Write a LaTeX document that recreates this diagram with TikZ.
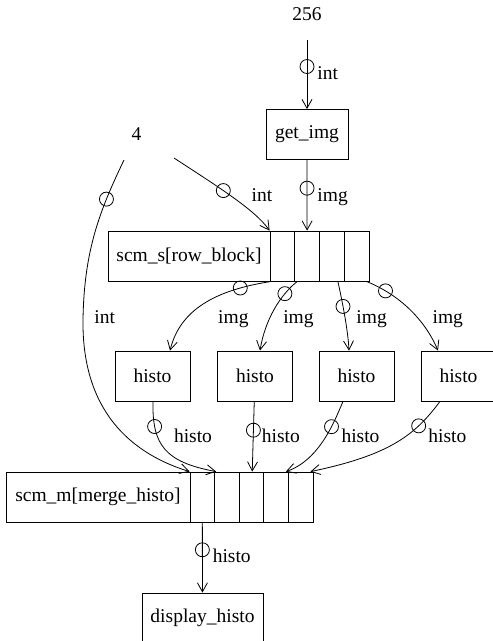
\documentclass[tikz,border=0pt]{standalone}
\usepackage{fontspec}
\setmainfont{Liberation Serif}
\usetikzlibrary{arrows.meta}
\tikzset{mybox/.style={draw, line width=0.8pt, minimum height=50pt, inner sep=0pt},
  mycell/.style={draw, line width=0.8pt, minimum width=24.6pt, minimum height=50pt, inner sep=0pt},
  myport/.style={draw, circle, line width=0.8pt, minimum size=14pt, inner sep=0pt},
  mylabel/.style={inner sep=0pt, anchor=base west},
  myedge/.style={line width=0.8pt, -{Straight Barb[length=9pt, width=10pt]}}}

\begin{document}
\begin{tikzpicture}[x=1pt, y=-1pt, font=\fontsize{19.5}{23}\selectfont]
    \clip (0,0) rectangle (493,641);

    \node[mylabel, anchor=base] (v256) at (307,20)    {256};
    \node[mylabel, anchor=base] (v4)   at (136.5,140) {4};
    \node[mybox, minimum width=82pt]  (getimg) at (307,134.5) {get\_img};
    \node[mybox, minimum width=162pt] (scms)   at (189,256)   {scm\_s[row\_block]};
    \foreach \i in {1,...,4}
        \node[mycell, minimum width=24.75pt] (scms\i) at ({257.625+\i*24.75},256) {};
    \foreach \x [count=\i] in {152.5,255,356.5,458.5}
        \node[mybox, minimum width=75pt] (histo\i) at (\x,376) {histo};
    \node[mybox, minimum width=184pt] (scmm)   at (98,497)    {scm\_m[merge\_histo]};
    \foreach \i in {1,...,5}
        \node[mycell] (scmm\i) at ({177.7+\i*24.6},497) {};
    \node[mybox, minimum width=121pt] (display) at (202.5,618) {display\_histo};

    \coordinate (v4a) at ([shift={(-12.5,20)}]v4.base);
    \coordinate (v4b) at ([shift={(37.5,18)}]v4.base);

    % inputs
    \draw[myedge, shorten <=20pt] (v256) -- node[myport, pos=0.52] {}
        node[mylabel, pos=0.52, xshift=10pt, yshift=-13pt] {int} (getimg);
    \draw[myedge] (getimg) -- node[myport, pos=0.4] {}
        node[mylabel, pos=0.4, xshift=10pt, yshift=-13pt] {img} (scms2);
    \draw[myedge] (v4b) .. controls (220,188) and (255,210) .. node[myport, pos=0.4] {}
        node[mylabel, pos=0.4, xshift=28pt, yshift=-11pt] {int} (scms1.north west);
    \draw[myedge] (v4a) .. controls (100,210) and (84,250) .. node[myport, pos=0.27] {}
        (83,320) node[mylabel, xshift=11pt, yshift=-3pt] {int}
        .. controls (82,400) and (120,450) .. (scmm1.north west);

    % split
    \draw[myedge] ([xshift=2pt]scms1.south west) .. controls (215,290) and (180,310) ..
        node[myport, pos=0.2] {} node[mylabel, pos=0.2, xshift=-22.5pt, yshift=-35pt] {img}
        ([xshift=17.5pt]histo1.north);
    \draw[myedge] ([xshift=3pt]scms2.south west) .. controls (280,295) and (265,320) ..
        node[myport, pos=0.25] {} node[mylabel, pos=0.25, xshift=-2pt, yshift=-29.5pt] {img}
        ([xshift=5pt]histo2.north);
    \draw[myedge] ([xshift=6pt]scms3.south) .. controls (342,300) and (348,330) ..
        node[myport, pos=0.38] {} node[mylabel, pos=0.38, xshift=13pt, yshift=-16.6pt] {img}
        ([xshift=-7.5pt]histo3.north);
    \draw[myedge] ([xshift=-3pt]scms4.south east) .. controls (400,295) and (425,320) ..
        node[myport, pos=0.2] {} node[mylabel, pos=0.2, xshift=46.7pt, yshift=-32.3pt] {img}
        ([xshift=-20.5pt]histo4.north);

    % merge
    \draw[myedge] ([xshift=0.5pt]histo1.south) .. controls (152,445) and (165,462) ..
        node[myport, pos=0.22] {} node[mylabel, pos=0.22, xshift=19pt, yshift=-15.7pt] {histo}
        ([xshift=2pt]scmm2.north west);
    \draw[myedge] (histo2) -- node[myport, pos=0.41] {}
        node[mylabel, pos=0.41, xshift=8pt, yshift=-12pt] {histo} (scmm3);
    \draw[myedge] ([xshift=-13.5pt]histo3.south) .. controls (335,420) and (320,460) ..
        node[myport, pos=0.35] {} node[mylabel, pos=0.35, xshift=9.6pt, yshift=-15.5pt] {histo}
        ([xshift=-3pt]scmm4.north east);
    \draw[myedge] ([xshift=-18.5pt]histo4.south) .. controls (415,435) and (390,455) ..
        node[myport, pos=0.27] {} node[mylabel, pos=0.27, xshift=9.3pt, yshift=-16.3pt] {histo}
        ([xshift=-3pt]scmm5.north east);

    % output
    \draw[myedge] (scmm1) -- node[myport, pos=0.39] {}
        node[mylabel, pos=0.39, xshift=10pt, yshift=-13pt] {histo} (display);

\end{tikzpicture}
\end{document}
